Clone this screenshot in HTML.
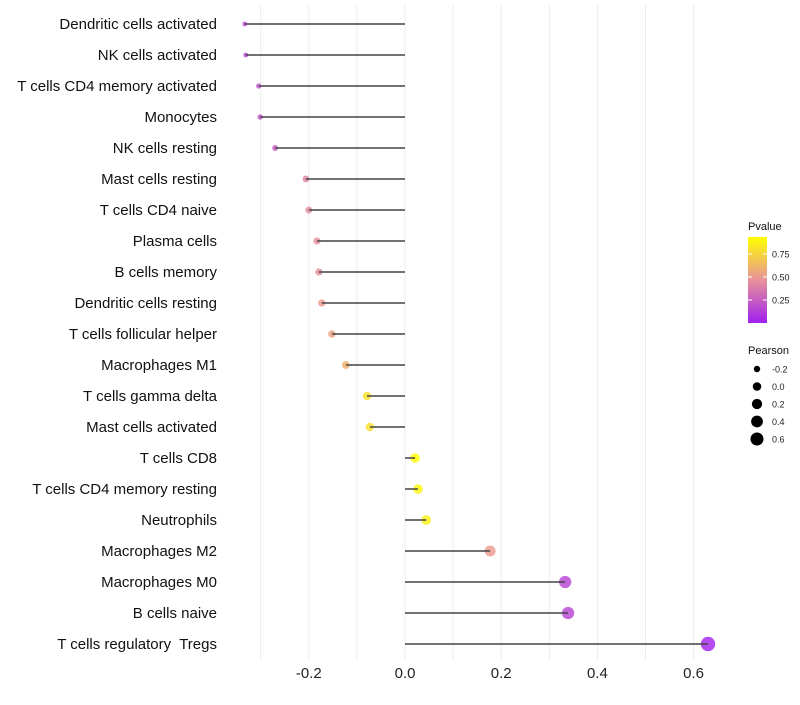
<!DOCTYPE html>
<html><head><meta charset="utf-8"><style>
body{margin:0;background:#fff;font-family:"Liberation Sans",sans-serif}
svg text{font-family:"Liberation Sans",sans-serif;white-space:pre}
</style></head><body>
<svg id="c" width="800" height="700"></svg>
<script>
const categories=["Dendritic cells activated","NK cells activated","T cells CD4 memory activated","Monocytes","NK cells resting","Mast cells resting","T cells CD4 naive","Plasma cells","B cells memory","Dendritic cells resting","T cells follicular helper","Macrophages M1","T cells gamma delta","Mast cells activated","T cells CD8","T cells CD4 memory resting","Neutrophils","Macrophages M2","Macrophages M0","B cells naive","T cells regulatory  Tregs"];
const pearson=[-0.333,-0.331,-0.304,-0.301,-0.27,-0.206,-0.2,-0.183,-0.179,-0.173,-0.152,-0.123,-0.079,-0.073,0.021,0.027,0.044,0.177,0.333,0.339,0.63];
const pvalues=[0.15,0.15,0.2,0.2,0.25,0.4,0.45,0.45,0.45,0.5,0.55,0.6,0.8,0.8,0.93,0.9,0.87,0.5,0.15,0.15,0.02];
const xTicks=[-0.2,0,0.2,0.4,0.6];
const xTickLabels=["-0.2","0.0","0.2","0.4","0.6"];
const legendSizes=[-0.2,0,0.2,0.4,0.6];
const legendSizeLabels=["-0.2","0.0","0.2","0.4","0.6"];
const colorTicks=[0.25,0.5,0.75];
const colorTickLabels=["0.25","0.50","0.75"];

const NS="http://www.w3.org/2000/svg";
const svg=document.getElementById('c');
function mk(t,a,p){const e=document.createElementNS(NS,t);for(const k in a)e.setAttribute(k,a[k]);(p||svg).appendChild(e);return e;}
const x=v=>405+v*481;
const y=i=>24+i*31;
const pmin=0,pmax=0.935;
function lerp(a,b,t){return Math.round(a+(b-a)*t);}
const stops=[[0,[160,32,240]],[0.5,[232,146,154]],[1,[255,255,0]]];
function col(p){let t=(p-pmin)/(pmax-pmin);t=Math.max(0,Math.min(1,t));let s=t<=0.5?0:1;let a=stops[s],b=stops[s+1];let u=(t-a[0])/(b[0]-a[0]);return `rgb(${lerp(a[1][0],b[1][0],u)},${lerp(a[1][1],b[1][1],u)},${lerp(a[1][2],b[1][2],u)})`;}
const smin=Math.min(...pearson),smax=Math.max(...pearson);
function rad(v){let t=(v-smin)/(smax-smin);t=Math.max(0,t);return Math.sqrt(2.4*2.4+t*(7.2*7.2-2.4*2.4));}
for(let v=-0.3;v<=0.61;v+=0.1){const g=mk('line',{x1:x(v),x2:x(v),y1:5,y2:660,stroke:'#ededed','stroke-width':1});

}
xTicks.forEach((v,i)=>{const t=mk('text',{x:x(v),y:678,'font-size':15,'text-anchor':'middle',fill:'#222'});t.textContent=xTickLabels[i];

});
categories.forEach((c,i)=>{
const t=mk('text',{x:217,y:y(i)+5,'font-size':15,'text-anchor':'end',fill:'#111'});t.textContent=c;


const d=mk('circle',{cx:x(pearson[i]),cy:y(i),r:rad(pearson[i]),fill:col(pvalues[i]),'fill-opacity':0.82});


const l=mk('line',{x1:x(0),x2:x(pearson[i]),y1:y(i),y2:y(i),stroke:'#444','stroke-width':1.5});


});
const lt=mk('text',{x:748,y:230,'font-size':11,fill:'#111'});lt.textContent='Pvalue';


const defs=mk('defs',{});const gr=mk('linearGradient',{id:'g',x1:0,y1:1,x2:0,y2:0},defs);
stops.forEach(s=>mk('stop',{offset:s[0],'stop-color':`rgb(${s[1].join(',')})`},gr));
const cb=mk('rect',{x:748,y:237,width:19,height:86,fill:'url(#g)'});


const cy=p=>323-(p-pmin)/(pmax-pmin)*86;
colorTicks.forEach((p,i)=>{mk('line',{x1:748,x2:752,y1:cy(p),y2:cy(p),stroke:'#fff'});mk('line',{x1:763,x2:767,y1:cy(p),y2:cy(p),stroke:'#fff'});
const t=mk('text',{x:772,y:cy(p)+3.5,'font-size':9,fill:'#222'});t.textContent=colorTickLabels[i];

});
const st=mk('text',{x:748,y:354,'font-size':11,fill:'#111'});st.textContent='Pearson';


legendSizes.forEach((v,i)=>{const yy=369+i*17.5;
const d=mk('circle',{cx:757,cy:yy,r:rad(v)*0.92,fill:'#000'});


const t=mk('text',{x:772,y:yy+3.5,'font-size':9,fill:'#222'});t.textContent=legendSizeLabels[i];

});
</script>
</body></html>
